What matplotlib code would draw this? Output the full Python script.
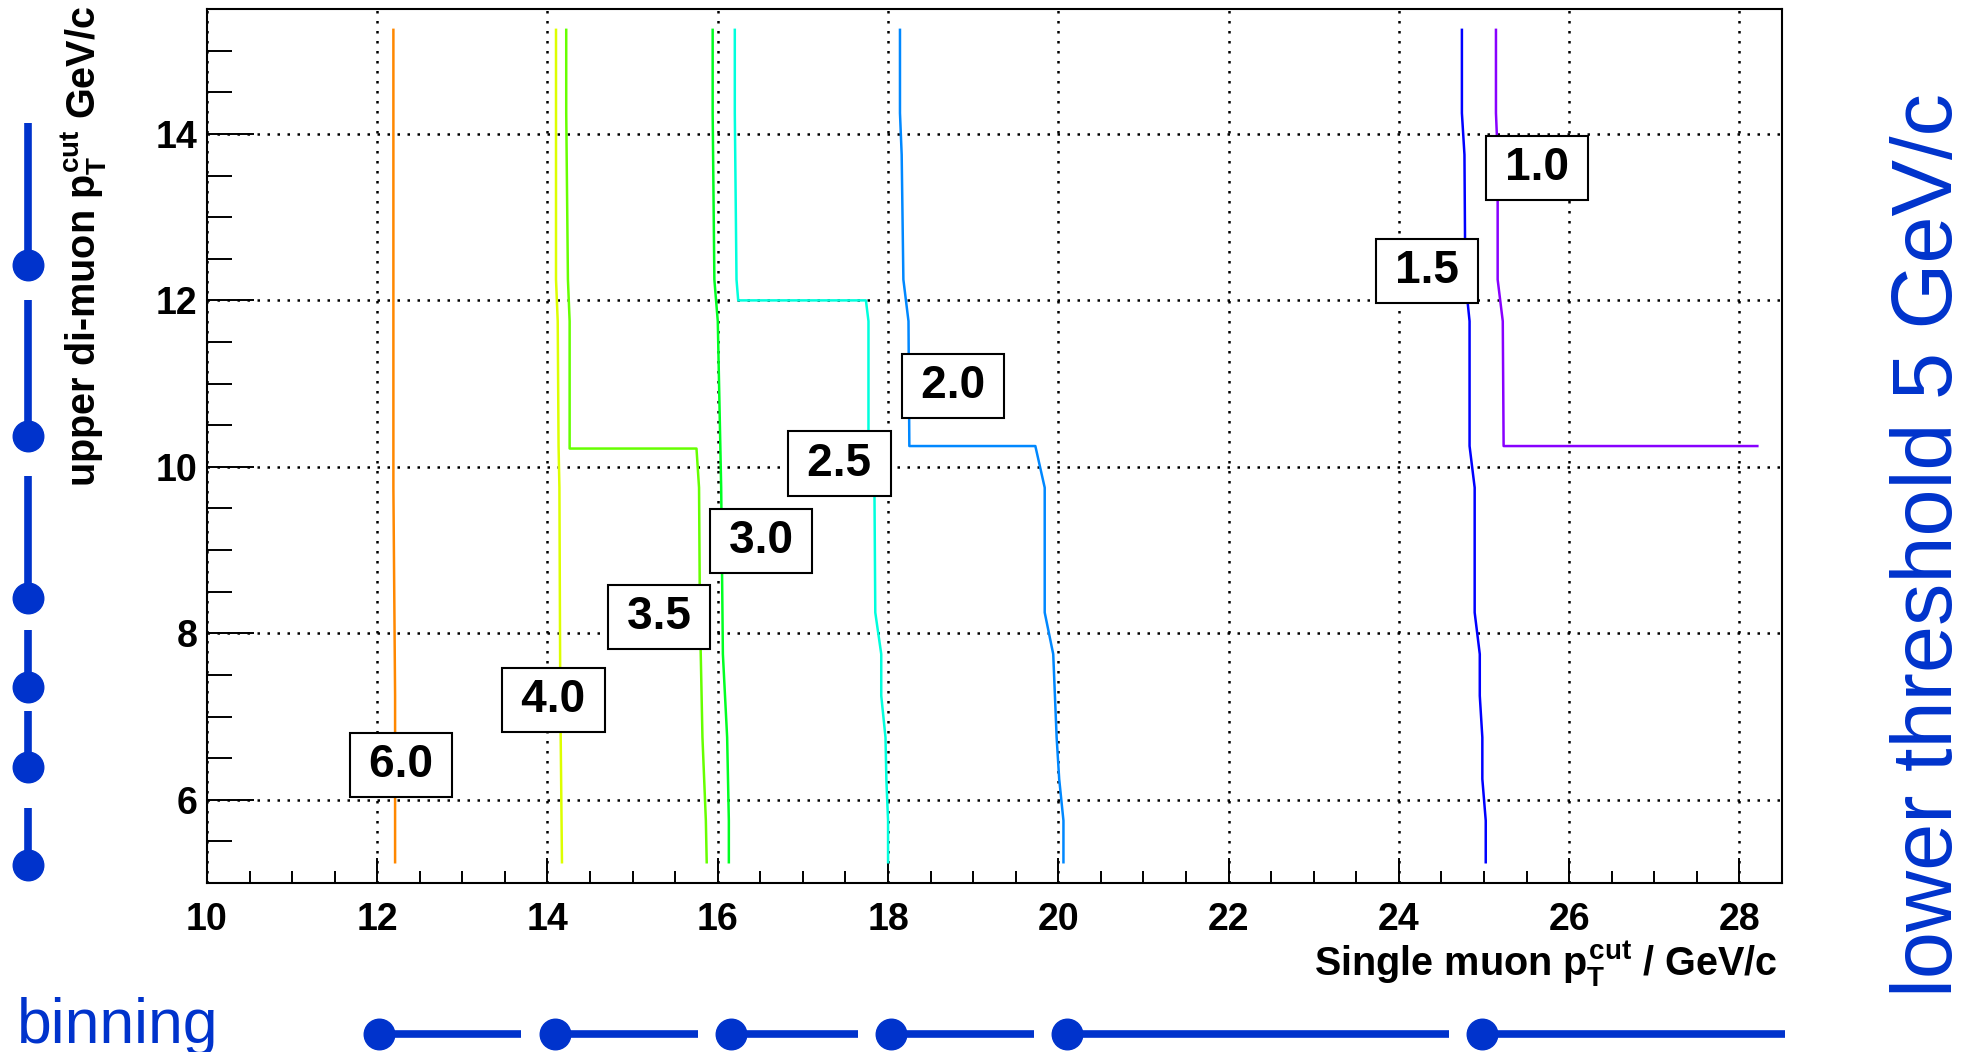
import matplotlib
matplotlib.use('Agg')
import matplotlib.pyplot as plt
from matplotlib.ticker import MultipleLocator

# contour lines: (single muon pT cut, upper di-muon pT cut)
levels = ['6.0', '4.0', '3.5', '3.0', '2.5', '2.0', '1.5', '1.0']
colors = ['#ff8800', '#ddff00', '#66ff00', '#00ff22', '#00ffdd', '#0088ff', '#0000ff', '#8800ff']

x_60 = [12.19, 12.19, 12.21, 12.21]
y_60 = [15.25, 9.75, 7.25, 5.25]

x_40 = [14.10, 14.10, 14.12, 14.13, 14.14, 14.15, 14.17]
y_40 = [15.25, 12.25, 11.75, 10.25, 9.75, 7.25, 5.25]

x_35 = [14.22, 14.22, 14.24, 14.26, 14.26, 15.75, 15.78, 15.79, 15.82, 15.86, 15.87]
y_35 = [15.25, 14.25, 12.25, 11.75, 10.22, 10.22, 9.75, 8.25, 6.75, 5.75, 5.25]

x_30 = [15.94, 15.94, 15.96, 16.00, 16.03, 16.04, 16.06, 16.11, 16.13, 16.13]
y_30 = [15.25, 14.25, 12.25, 11.75, 10.25, 9.75, 7.75, 6.75, 5.75, 5.25]

x_25 = [16.20, 16.20, 16.22, 16.24, 17.74, 17.77, 17.77, 17.84, 17.85, 17.92, 17.92, 17.97, 17.98, 18.00, 18.00]
y_25 = [15.25, 14.25, 12.25, 12.0, 12.0, 11.75, 10.25, 9.75, 8.25, 7.75, 7.25, 6.75, 6.25, 5.75, 5.25]

x_20 = [18.14, 18.14, 18.16, 18.18, 18.24, 18.25, 19.73, 19.84, 19.84, 19.94, 19.96, 19.98, 20.01, 20.06, 20.06]
y_20 = [15.25, 14.25, 13.75, 12.25, 11.75, 10.25, 10.25, 9.75, 8.25, 7.75, 7.25, 6.75, 6.25, 5.75, 5.25]

x_15 = [24.74, 24.74, 24.77, 24.78, 24.83, 24.83, 24.89, 24.89, 24.95, 24.95, 24.98, 24.98, 25.02, 25.02]
y_15 = [15.25, 14.25, 13.75, 12.25, 11.75, 10.25, 9.75, 8.25, 7.75, 7.25, 6.75, 6.25, 5.75, 5.25]

x_10 = [25.14, 25.14, 25.16, 25.16, 25.22, 25.23, 28.21]
y_10 = [15.25, 14.25, 13.75, 12.25, 11.75, 10.25, 10.25]

lines_x = [x_60, x_40, x_35, x_30, x_25, x_20, x_15, x_10]
lines_y = [y_60, y_40, y_35, y_30, y_25, y_20, y_15, y_10]

# label box centres
label_x = [12.28, 14.07, 15.31, 16.51, 17.43, 18.76, 24.33, 25.62]
label_y = [6.42, 7.20, 8.20, 9.11, 10.04, 10.97, 12.35, 13.59]

# binning markers (dot at the low edge)
left_lo = [12.43, 10.37, 8.42, 7.35, 6.40, 5.22]
left_hi = [14.13, 12.01, 9.89, 8.04, 7.07, 5.90]
bottom_lo = [12.02, 14.09, 16.15, 18.03, 20.10, 24.98]
bottom_hi = [13.69, 15.77, 17.65, 19.72, 24.59, 28.54]

blue = '#0033cc'

plt.rcParams['font.family'] = 'Liberation Sans'
plt.rcParams['font.weight'] = 'bold'
plt.rcParams['mathtext.fontset'] = 'custom'
plt.rcParams['mathtext.rm'] = 'Liberation Sans:bold'
plt.rcParams['mathtext.it'] = 'Liberation Sans:bold'
plt.rcParams['mathtext.bf'] = 'Liberation Sans:bold'

fig = plt.figure(figsize=(19.84, 10.52), dpi=100)
ax = fig.add_axes([0.1043, 0.1606, 0.7939, 0.8308])

for xs, ys, c in zip(lines_x, lines_y, colors):
    ax.plot(xs, ys, color=c, lw=1.8, zorder=3)

for lx, ly, txt in zip(label_x, label_y, levels):
    ax.text(lx, ly, '\u2009' + txt + '\u2009', ha='center', va='center', fontsize=33,
            fontweight='bold', zorder=5,
            bbox=dict(boxstyle='square,pad=0.22', fc='white', ec='black', lw=1.5))

ax.set_xlim(10, 28.5)
ax.set_ylim(5, 15.5)
ax.xaxis.set_major_locator(MultipleLocator(2))
ax.xaxis.set_minor_locator(MultipleLocator(0.5))
ax.yaxis.set_major_locator(MultipleLocator(2))
ax.yaxis.set_minor_locator(MultipleLocator(0.5))
ax.grid(True, which='major', color='black', linestyle=(0, (1, 3)), lw=1.8)
ax.tick_params(which='both', direction='in', top=False, right=False, width=1.4, labelsize=27)
ax.tick_params(axis='x', which='major', length=18, pad=14)
ax.tick_params(axis='x', which='minor', length=8.5)
ax.tick_params(axis='y', which='major', length=34, pad=7)
ax.tick_params(axis='y', which='minor', length=18)
for s in ax.spines.values():
    s.set_linewidth(1.5)

fig.text(1778 / 1984, (1052 - 976) / 1052, r'Single muon $p_T^{cut}$ / GeV/c',
         ha='right', va='baseline', fontsize=28.5)
fig.text(84 / 1984, 1 - 6 / 1052, r'upper di-muon $p_T^{cut}$ GeV/c',
         rotation=90, ha='center', va='top', fontsize=28.5)

# left binning strip
axl = fig.add_axes([0, 0.1606, 56 / 1984, 0.8308])
axl.set_xlim(0, 1)
axl.set_ylim(5, 15.5)
axl.axis('off')
for lo, hi in zip(left_lo, left_hi):
    axl.plot([0.5, 0.5], [lo, hi], color=blue, lw=5.5, solid_capstyle='butt', clip_on=False)
    axl.plot(0.5, lo, 'o', ms=22, color=blue, clip_on=False)

# bottom binning strip
axb = fig.add_axes([0.1043, 0, 0.7939, 36 / 1052])
axb.set_xlim(10, 28.5)
axb.set_ylim(0, 1)
axb.axis('off')
for lo, hi in zip(bottom_lo, bottom_hi):
    axb.plot([lo, hi], [0.5, 0.5], color=blue, lw=5.5, solid_capstyle='butt', clip_on=False)
    axb.plot(lo, 0.5, 'o', ms=22, color=blue, clip_on=False)

fig.text(17 / 1984, (1052 - 1043) / 1052, 'binning', fontsize=45, fontweight='normal',
         color=blue, ha='left', va='baseline')
fig.text(1930 / 1984, 0.482, 'lower threshold 5 GeV/c', rotation=90, fontsize=61,
         fontweight='normal', color=blue, ha='center', va='center')

fig.savefig('out.png', dpi=100)
